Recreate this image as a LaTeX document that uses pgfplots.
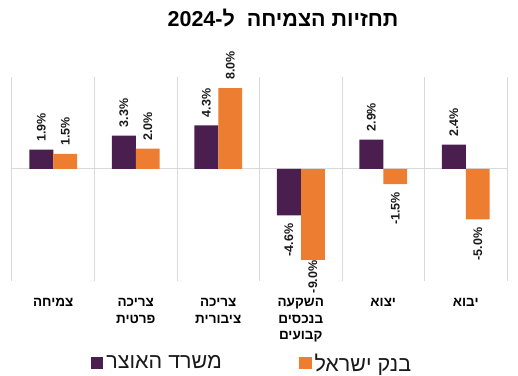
\documentclass[border=0pt]{standalone}
\usepackage{pgfplots}
\pgfplotsset{compat=1.18}
\usepackage{graphicx}
\usepackage{fontspec}
\setmainfont{Liberation Sans}
\newfontfamily\heb[Script=Hebrew]{Liberation Sans}
\TeXXeTstate=1
\definecolor{mof}{HTML}{4A1E4F}
\definecolor{boi}{HTML}{ED7D31}
\definecolor{gridc}{HTML}{D9D9D9}
\newcommand{\R}[1]{{\heb\beginR #1\endR}}
\begin{document}
\begin{tikzpicture}
\path[use as bounding box] (0,0) rectangle (518pt,375pt);
\node[font=\bfseries\fontsize{21.5}{24}\selectfont] at (283pt,357pt) {\R{תחזיות הצמיחה\ \ ל-\beginL2024\endL}};
\begin{axis}[
  at={(12pt,94pt)}, anchor=south west,
  width=495pt, height=204pt, scale only axis,
  ybar,
  xmin=-0.5, xmax=5.5, ymin=-11.1, ymax=9.1,
  axis line style={draw=none},
  ytick=\empty,
  xtick={0,...,5},
  xticklabels={{\R{צמיחה}},{\R{צריכה}\\\R{פרטית}},{\R{צריכה}\\\R{ציבורית}},{\R{השקעה}\\\R{בנכסים}\\\R{קבועים}},{\R{יצוא}},{\R{יבוא}}},
  major tick length=0pt,
  minor xtick={-0.5,0.5,...,5.5},
  minor tick length=0pt,
  xminorgrids,
  minor grid style={gridc, line width=1pt},
  major grid style={gridc, line width=1pt},
  extra y ticks={0}, extra y tick labels={},
  extra y tick style={grid=major},
  xticklabel style={font=\bfseries\fontsize{13.5}{16.5}\selectfont, align=center, anchor=north, yshift=-14pt},
  nodes near coords={\rotatebox{90}{\pgfmathprintnumber[fixed,fixed zerofill,precision=1,assume math mode=true]{\pgfplotspointmeta}\%}},
  every node near coord/.append style={font=\bfseries\fontsize{12.5}{12.5}\selectfont, inner ysep=8pt, inner xsep=0pt, text=black!90},
  legend image code/.code={\fill[#1,draw=none] (0pt,-6pt) rectangle (12.5pt,6.5pt);},
  legend style={draw=none, fill=none, at={(0.486,-0.402)}, anchor=center, legend columns=2,
    font=\fontsize{21.5}{24}\selectfont, nodes={inner xsep=3pt, text=black!90}, /tikz/column 2/.style={column sep=74pt}},
]
\addplot[bar width=0.29, bar shift=-0.145, fill=mof, draw=none] coordinates {(0,1.9) (1,3.3) (2,4.3) (3,-4.6) (4,2.9) (5,2.4)};
\addlegendentry{\R{משרד האוצר}}
\addplot[bar width=0.29, bar shift=0.145, fill=boi, draw=none] coordinates {(0,1.5) (1,2.0) (2,8.0) (4,-1.5) (5,-5.0)};
\addlegendentry{\R{בנק ישראל}}
\addplot[forget plot, bar width=0.29, bar shift=0.145, fill=boi, draw=none,
  every node near coord/.append style={inner ysep=0.5pt}] coordinates {(3,-9.0)};
\end{axis}
\end{tikzpicture}
\end{document}
